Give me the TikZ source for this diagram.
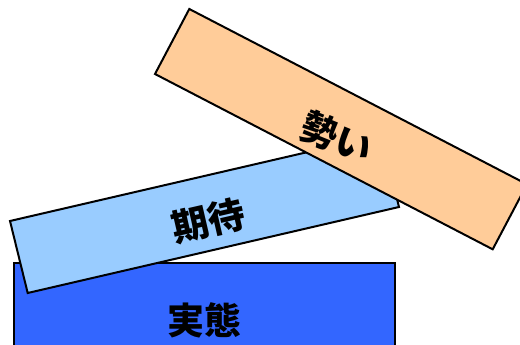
\documentclass[tikz,border=0pt]{standalone}
\usepackage{fontspec}
\newfontfamily\cjk{Noto Sans CJK JP}
\tikzset{
  box/.style={draw=black, line width=2pt, line join=miter},
  lbl/.style={font=\cjk\bfseries\fontsize{37}{40}\selectfont, text=black, inner sep=0pt}
}
\definecolor{cBlue}{HTML}{3366FF}
\definecolor{cLight}{HTML}{99CCFF}
\definecolor{cOrange}{HTML}{FFCC99}
\begin{document}
\begin{tikzpicture}[x=1pt,y=-1pt]
\useasboundingbox (0,0) rectangle (520,345);
\clip (0,0) rectangle (520,345);
% 実態
\draw[box, fill=cBlue] (14,263) rectangle (395,365);
\node[lbl] (jittai) at (204,320) {実態};
% 期待
\draw[box, fill=cLight] (10,221) -- (381.3,135) -- (399,207) -- (27.7,293) -- cycle;
\node[lbl, rotate=13] (kitai) at (208,221) {期待};
% 勢い
\draw[box, fill=cOrange] (189.3,9) -- (527,184.3) -- (492.7,249.3) -- (155,74) -- cycle;
\node[lbl, rotate=-22] (ikioi) at (337,137) {勢い};
\end{tikzpicture}
\end{document}
